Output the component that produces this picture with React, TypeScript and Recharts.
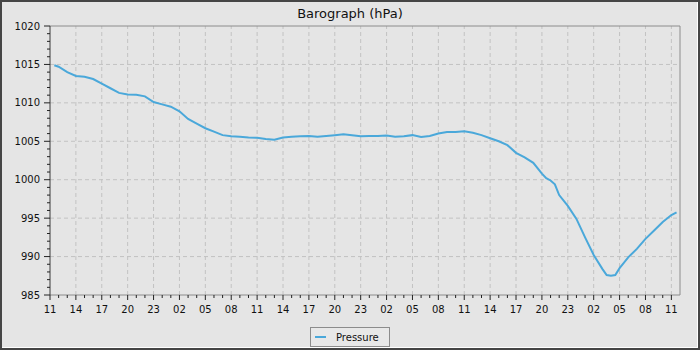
import React from "react";
import { LineChart, Line, XAxis, YAxis, ReferenceLine, Legend } from "recharts";

// hours since the first tick (11:00) and the pressure read at that hour
const hours = [
  0.5, 1, 2, 3, 4, 5, 6, 7, 8, 9, 10, 11, 12, 13, 14, 15, 16, 17, 18, 19, 20,
  21, 22, 23, 24, 25, 26, 27, 28, 29, 30, 31, 32, 33, 34, 35, 36, 37, 38, 39,
  40, 41, 42, 43, 44, 45, 46, 47, 48, 49, 50, 51, 52, 53, 54, 55, 56, 57, 57.5,
  58, 58.5, 59, 60, 61, 62, 63, 64, 64.5, 65, 65.5, 66, 67, 68, 69, 70, 71, 72,
  72.6
];

const pressure = [
  1014.9, 1014.7, 1014.0, 1013.5, 1013.4, 1013.1, 1012.5, 1011.9, 1011.3,
  1011.1, 1011.05, 1010.85, 1010.1, 1009.8, 1009.5, 1008.9, 1007.9, 1007.3,
  1006.7, 1006.25, 1005.8, 1005.65, 1005.6, 1005.5, 1005.45, 1005.3, 1005.2,
  1005.5, 1005.6, 1005.65, 1005.7, 1005.6, 1005.7, 1005.8, 1005.9, 1005.8,
  1005.65, 1005.7, 1005.7, 1005.75, 1005.6, 1005.65, 1005.8, 1005.55, 1005.7,
  1006.0, 1006.2, 1006.2, 1006.3, 1006.1, 1005.8, 1005.4, 1005.0, 1004.5,
  1003.5, 1002.9, 1002.2, 1000.8, 1000.2, 999.9, 999.4, 998.0, 996.6, 994.9,
  992.5, 990.2, 988.4, 987.6, 987.5, 987.6, 988.5, 989.9, 991.0, 992.3, 993.4,
  994.5, 995.4, 995.75
];

const hourLabels = [
  "11", "14", "17", "20", "23", "02", "05", "08", "11", "14", "17", "20", "23",
  "02", "05", "08", "11", "14", "17", "20", "23", "02", "05", "08", "11"
];

const majorHours = [
  0, 3, 6, 9, 12, 15, 18, 21, 24, 27, 30, 33, 36, 39, 42, 45, 48, 51, 54, 57,
  60, 63, 66, 69, 72
];

const hourTicks = [
  0, 1, 2, 3, 4, 5, 6, 7, 8, 9, 10, 11, 12, 13, 14, 15, 16, 17, 18, 19, 20, 21,
  22, 23, 24, 25, 26, 27, 28, 29, 30, 31, 32, 33, 34, 35, 36, 37, 38, 39, 40,
  41, 42, 43, 44, 45, 46, 47, 48, 49, 50, 51, 52, 53, 54, 55, 56, 57, 58, 59,
  60, 61, 62, 63, 64, 65, 66, 67, 68, 69, 70, 71, 72
];

const pressureTicks = [
  985, 986, 987, 988, 989, 990, 991, 992, 993, 994, 995, 996, 997, 998, 999,
  1000, 1001, 1002, 1003, 1004, 1005, 1006, 1007, 1008, 1009, 1010, 1011, 1012,
  1013, 1014, 1015, 1016, 1017, 1018, 1019, 1020
];

const gridPressures = [990, 995, 1000, 1005, 1010, 1015];

const data = hours.map((h, i) => ({ hour: h, pressure: pressure[i] }));

const FONT = '"DejaVu Sans", sans-serif';

const XTick = ({ x, y, payload }: any) => {
  const h = payload.value;
  const major = h % 3 === 0;
  return (
    <g>
      <line x1={x} x2={x} y1={y} y2={y + (major ? 5 : 3)} stroke="#222" />
      {major && (
        <text x={x} y={y + 18} textAnchor="middle" fontSize={10} fill="#111" fontFamily={FONT}>
          {hourLabels[h / 3]}
        </text>
      )}
    </g>
  );
};

const YTick = ({ x, y, payload }: any) => {
  const v = payload.value;
  const major = v % 5 === 0;
  return (
    <g>
      <line x1={x - (major ? 6 : 3)} x2={x} y1={y} y2={y} stroke="#222" />
      {major && (
        <text x={x - 10} y={y} dy="0.36em" textAnchor="end" fontSize={10} fill="#111" fontFamily={FONT}>
          {v}
        </text>
      )}
    </g>
  );
};

const LegendBox = () => (
  <div style={{ display: "flex", justifyContent: "center", height: 20 }}>
    <div
      style={{
        boxSizing: "border-box",
        width: 80,
        height: 20,
        border: "1px solid #8c8c8c",
        background: "#e8e8e8",
        display: "flex",
        alignItems: "center",
        fontFamily: FONT,
        fontSize: 10,
        color: "#111"
      }}
    >
      <svg width={11} height={2} style={{ marginLeft: 4, marginRight: 10 }}>
        <line x1={0} x2={11} y1={1} y2={1} stroke="#4aa8da" strokeWidth={2} />
      </svg>
      <span>Pressure</span>
    </div>
  </div>
);

const App = () => {
  return (
    <div style={{ position: "absolute", left: 0, top: 0, width: 700, height: 350, background: "#e5e5e5" }}>
      <div
        style={{
          position: "absolute",
          top: 6,
          left: 0,
          width: 700,
          textAlign: "center",
          fontFamily: FONT,
          fontSize: 13,
          lineHeight: "15px",
          color: "#111"
        }}
      >
        Barograph (hPa)
      </div>
      <LineChart width={700} height={350} data={data} margin={{ top: 26, right: 20, left: 0, bottom: 0 }}>
        {gridPressures.map((p) => (
          <ReferenceLine key={"g" + p} y={p} stroke="#c2c2c2" strokeDasharray="4 3" />
        ))}
        {majorHours.slice(1).map((h) => (
          <ReferenceLine key={"v" + h} x={h} stroke="#c2c2c2" strokeDasharray="4 3" />
        ))}
        <ReferenceLine y={1020} stroke="#8c8c8c" />
        <ReferenceLine x={73} stroke="#8c8c8c" />
        <XAxis
          dataKey="hour"
          type="number"
          domain={[0, 73]}
          ticks={hourTicks}
          interval={0}
          tickSize={0}
          tickMargin={0}
          height={35}
          tick={<XTick />}
          axisLine={{ stroke: "#8c8c8c" }}
          tickLine={false}
          allowDataOverflow
        />
        <YAxis
          type="number"
          domain={[985, 1020]}
          ticks={pressureTicks}
          interval={0}
          tickSize={0}
          tickMargin={0}
          width={50}
          tick={<YTick />}
          axisLine={{ stroke: "#3a3a3a" }}
          tickLine={false}
          allowDataOverflow
        />
        <Line
          type="linear"
          dataKey="pressure"
          name="Pressure"
          stroke="#4aa8da"
          strokeWidth={2}
          dot={false}
          isAnimationActive={false}
        />
        <Legend
          verticalAlign="bottom"
          content={() => <LegendBox />}
          wrapperStyle={{ left: 0, width: 700, bottom: 3, height: 20 }}
        />
      </LineChart>
      <div
        style={{
          position: "absolute",
          left: 0,
          top: 0,
          width: 700,
          height: 350,
          boxSizing: "border-box",
          border: "2px solid #454545",
          boxShadow: "inset -1px -1px 0 #ffffff",
          pointerEvents: "none"
        }}
      />
    </div>
  );
};

export default App;
